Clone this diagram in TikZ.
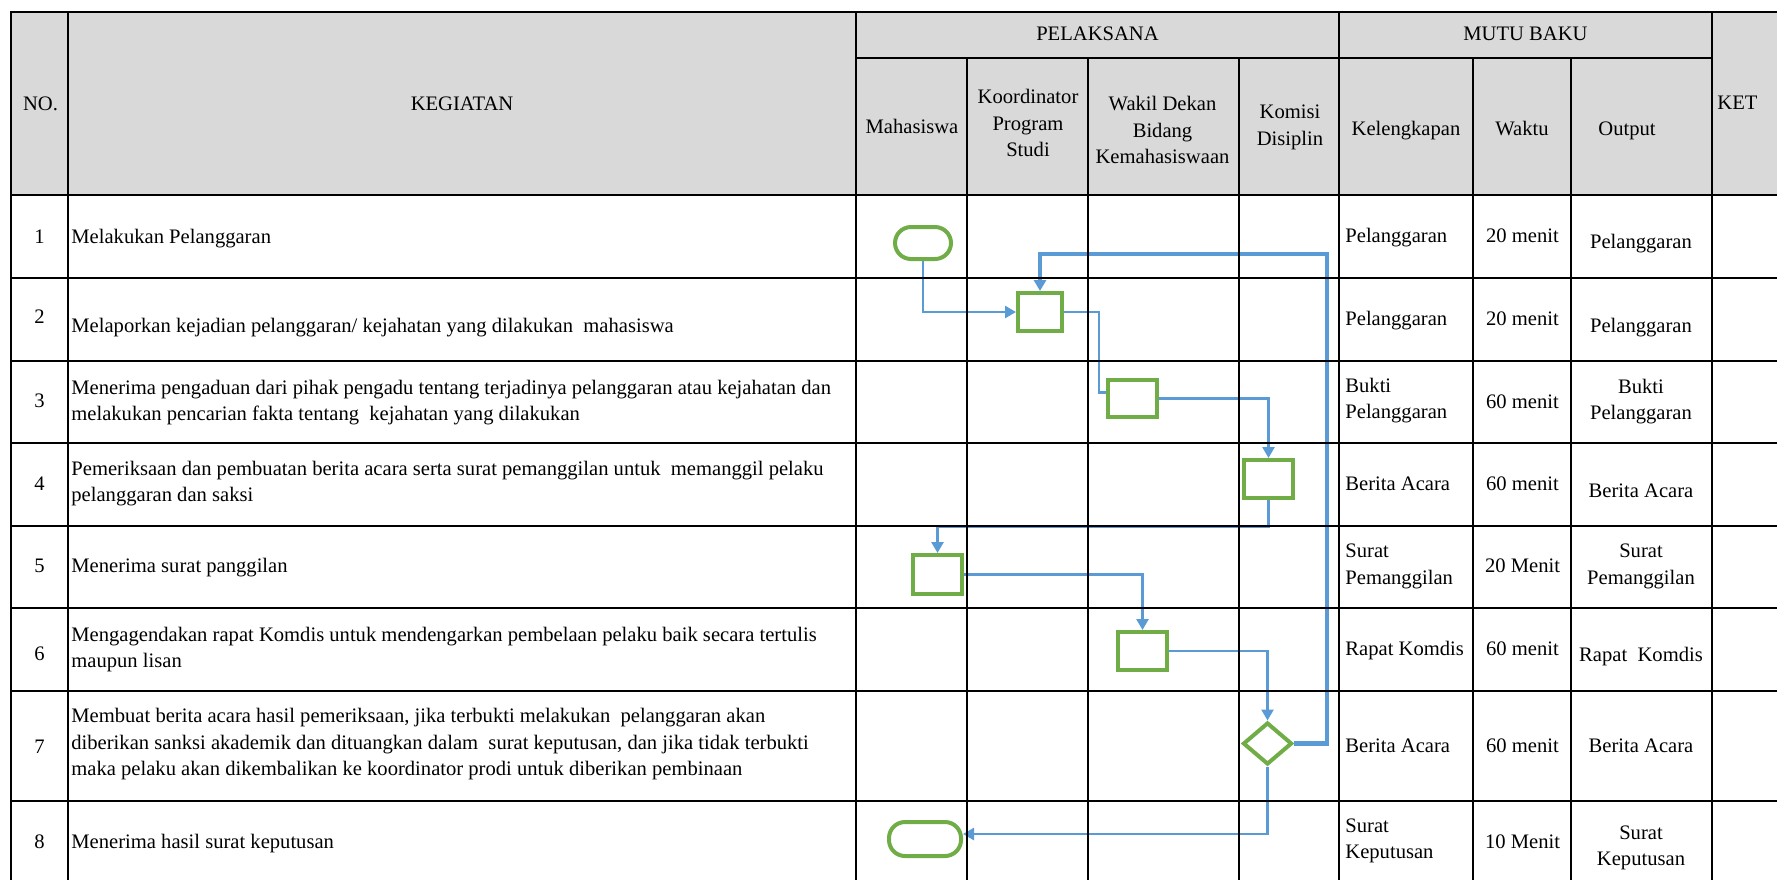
\documentclass[tikz,border=0pt]{standalone}
\usepackage{fontspec}
\setmainfont{Liberation Serif}
\usetikzlibrary{arrows.meta, shapes.geometric}
\definecolor{flowgreen}{HTML}{70AD47}
\definecolor{flowblue}{HTML}{5B9BD5}
\definecolor{headgray}{HTML}{D9D9D9}
\newcommand{\cellfont}{\fontsize{10.3}{13.3}\selectfont}

\begin{document}
\begin{tikzpicture}[x=0.5pt, y=-0.5pt,
  cell/.style={inner sep=0pt, font=\cellfont, execute at begin node=\strut, execute at end node=\strut},
  rule/.style={line width=1pt},
  proc/.style={draw=flowgreen, line width=2pt, inner sep=0pt, minimum width=24.5pt, minimum height=19pt},
  term/.style={draw=flowgreen, line width=2pt, inner sep=0pt, rounded corners=8pt},
  choice/.style={diamond, draw=flowgreen, line width=2pt, inner sep=0pt, minimum width=24.5pt, minimum height=21pt},
  link/.style={draw=flowblue, line width=1.3pt},
  flow/.style={link, -{Triangle[length=5.5pt, width=6pt]}},
  back/.style={flow, line width=2.3pt}]
\useasboundingbox (0,0) rectangle (1777,880);
\fill[headgray] (11,12) rectangle (1777,195);

\node[term, minimum width=28pt, minimum height=16pt] (s1) at (923,243) {};
\node[proc, minimum width=22pt] (s2) at (1040,312) {};
\node[proc, minimum height=18.5pt] (s3) at (1132,398.5) {};
\node[proc] (s4) at (1268.5,479) {};
\node[proc, minimum height=19.5pt] (s5) at (937.5,574.5) {};
\node[proc] (s6) at (1142.5,651) {};
\node[choice] (s7) at (1267.5,743.5) {};
\node[term, minimum width=36pt, minimum height=17pt] (s8) at (925,839) {};

\draw[flow] (s1.south) |- (s2.west);
\draw[link] (s2.east) -- ++(35,0) |- ([yshift=3pt]s3.west);
\draw[flow] (s3.east) -| (s4.north);
\draw[flow] (s4.south) -- ++(0,27) -| (s5.north);
\draw[flow] (s5.east) -| (s6.north);
\draw[flow] (s6.east) -| (s7.north);
\draw[back] (s7.east) -- ++(33,0) |- ([yshift=18.5pt]s2.north) -- (s2.north);
\draw[flow] (s7.south) |- ([yshift=2.5pt]s8.east);

\draw[rule] (1777,12) -- (11,12) -- (11,880);
\draw[rule] (856,58) -- (1712,58);
\draw[rule] (11,195) -- (1777,195) (11,278) -- (1777,278) (11,361) -- (1777,361) (11,443) -- (1777,443);
\draw[rule] (11,526) -- (1777,526) (11,608) -- (1777,608) (11,691) -- (1777,691) (11,801) -- (1777,801);
\draw[rule] (68,12) -- (68,880) (856,12) -- (856,880) (1339,12) -- (1339,880) (1712,12) -- (1712,880);
\draw[rule] (967,58) -- (967,880) (1088,58) -- (1088,880) (1239,58) -- (1239,880) (1473,58) -- (1473,880) (1571,58) -- (1571,880);

\node[cell] (hno) at (40.5,105) {NO.};
\node[cell] (hkeg) at (462,105) {KEGIATAN};
\node[cell] (hpel) at (1097.5,35) {PELAKSANA};
\node[cell] (hmutu) at (1525.5,35) {MUTU BAKU};
\node[cell, anchor=west] (hket) at (1717,104) {KET};
\node[cell] (hmhs) at (912,128) {Mahasiswa};
\node[cell, align=center] (hkpd) at (1028,127) {Koordinator\\Program\\Studi};
\node[cell, align=center] (hwd) at (1162.5,134) {Wakil Dekan\\Bidang\\Kemahasiswaan};
\node[cell, align=center] (hkd) at (1290,129) {Komisi\\Disiplin};
\node[cell] (hkel) at (1406,130) {Kelengkapan};
\node[cell] (hwkt) at (1522,130) {Waktu};
\node[cell] (hout) at (1627,130) {Output};

\node[cell] (n1) at (39.5,238) {1};
\node[cell] (n2) at (39.5,318) {2};
\node[cell] (n3) at (39.5,402) {3};
\node[cell] (n4) at (39.5,485) {4};
\node[cell] (n5) at (39.5,567) {5};
\node[cell] (n6) at (39.5,655) {6};
\node[cell] (n7) at (39.5,748) {7};
\node[cell] (n8) at (39.5,843) {8};

\node[cell, anchor=west] (k1) at (71,238) {Melakukan Pelanggaran};
\node[cell, anchor=west] (k2) at (71,327) {Melaporkan kejadian pelanggaran/ kejahatan yang dilakukan\ \ mahasiswa};
\node[cell, anchor=west, align=left] (k3) at (71,404.5) {Menerima pengaduan dari pihak pengadu tentang terjadinya pelanggaran atau kejahatan dan\\melakukan pencarian fakta tentang\ \ kejahatan yang dilakukan};
\node[cell, anchor=west, align=left] (k4) at (71,485.5) {Pemeriksaan dan pembuatan berita acara serta surat pemanggilan untuk\ \ memanggil pelaku\\pelanggaran dan saksi};
\node[cell, anchor=west] (k5) at (71,567) {Menerima surat panggilan};
\node[cell, anchor=west, align=left] (k6) at (71,651.5) {Mengagendakan rapat Komdis untuk mendengarkan pembelaan pelaku baik secara tertulis\\maupun lisan};
\node[cell, anchor=west, align=left] (k7) at (71,746) {Membuat berita acara hasil pemeriksaan, jika terbukti melakukan\ \ pelanggaran akan\\diberikan sanksi akademik dan dituangkan dalam\ \ surat keputusan, dan jika tidak terbukti\\maka pelaku akan dikembalikan ke koordinator prodi untuk diberikan pembinaan};
\node[cell, anchor=west] (k8) at (71,843) {Menerima hasil surat keputusan};

\node[cell, anchor=west] (l1) at (1345,237) {Pelanggaran};
\node[cell, anchor=west] (l2) at (1345,320) {Pelanggaran};
\node[cell, anchor=west, align=left] (l3) at (1345,402.5) {Bukti\\Pelanggaran};
\node[cell, anchor=west] (l4) at (1345,485) {Berita Acara};
\node[cell, anchor=west, align=left] (l5) at (1345,568) {Surat\\Pemanggilan};
\node[cell, anchor=west] (l6) at (1345,650) {Rapat Komdis};
\node[cell, anchor=west] (l7) at (1345,747) {Berita Acara};
\node[cell, anchor=west, align=left] (l8) at (1345,842.5) {Surat\\Keputusan};

\node[cell] (w1) at (1522.5,237) {20 menit};
\node[cell] (w2) at (1522.5,320) {20 menit};
\node[cell] (w3) at (1522.5,403) {60 menit};
\node[cell] (w4) at (1522.5,485) {60 menit};
\node[cell] (w5) at (1522.5,567) {20 Menit};
\node[cell] (w6) at (1522.5,650) {60 menit};
\node[cell] (w7) at (1522.5,747) {60 menit};
\node[cell] (w8) at (1522.5,843) {10 Menit};

\node[cell] (o1) at (1641,243) {Pelanggaran};
\node[cell] (o2) at (1641,327) {Pelanggaran};
\node[cell, align=center] (o3) at (1641,403.5) {Bukti\\Pelanggaran};
\node[cell] (o4) at (1641,492) {Berita Acara};
\node[cell, align=center] (o5) at (1641,568) {Surat\\Pemanggilan};
\node[cell] (o6) at (1641,656) {Rapat\ \ Komdis};
\node[cell] (o7) at (1641,747) {Berita Acara};
\node[cell, align=center] (o8) at (1641,849.5) {Surat\\Keputusan};
\end{tikzpicture}
\end{document}
